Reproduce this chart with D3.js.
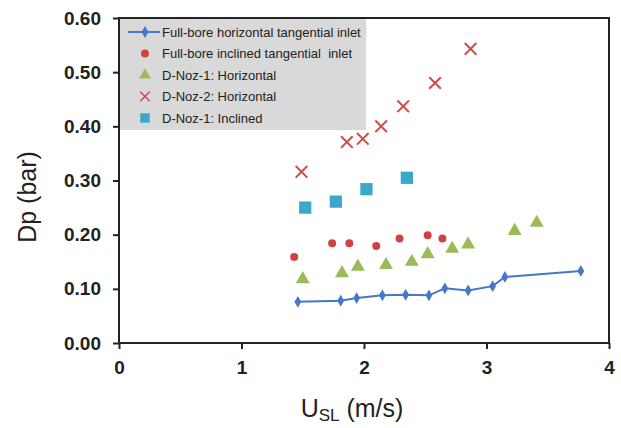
<!DOCTYPE html>
<html>
<head>
<meta charset="utf-8">
<script src="https://cdn.jsdelivr.net/npm/d3@7"></script>
<style>
    body { margin: 0; background: #fff; }
    svg text { font-family: "Liberation Sans", Arial, sans-serif; }
</style>
</head>
<body>
<svg id="chart" width="621" height="428"></svg>
<script>
// Full-bore horizontal tangential inlet (line + diamonds)
var fbHorX = [1.46, 1.81, 1.94, 2.15, 2.34, 2.53, 2.66, 2.85, 3.05, 3.15, 3.77]
var fbHorY = [0.076, 0.078, 0.083, 0.088, 0.089, 0.088, 0.101, 0.097, 0.105, 0.122, 0.133]

// Full-bore inclined tangential inlet (circles)
var fbIncX = [1.43, 1.74, 1.88, 2.10, 2.29, 2.52, 2.64]
var fbIncY = [0.159, 0.184, 0.184, 0.179, 0.193, 0.199, 0.193]

// D-Noz-1: Horizontal (triangles)
var noz1HorX = [1.50, 1.82, 1.95, 2.18, 2.39, 2.52, 2.72, 2.85, 3.23, 3.41]
var noz1HorY = [0.118, 0.129, 0.141, 0.144, 0.150, 0.164, 0.174, 0.182, 0.207, 0.222]

// D-Noz-2: Horizontal (crosses)
var noz2HorX = [1.49, 1.86, 1.99, 2.14, 2.32, 2.58, 2.87]
var noz2HorY = [0.316, 0.371, 0.377, 0.400, 0.437, 0.480, 0.543]

// D-Noz-1: Inclined (squares)
var noz1IncX = [1.52, 1.77, 2.02, 2.35]
var noz1IncY = [0.250, 0.261, 0.284, 0.305]

var xTicks = [0, 1, 2, 3, 4]
var yTicks = [0, 0.1, 0.2, 0.3, 0.4, 0.5, 0.6]

var legendNames = [
    "Full-bore horizontal tangential inlet",
    "Full-bore inclined tangential  inlet",
    "D-Noz-1: Horizontal",
    "D-Noz-2: Horizontal",
    "D-Noz-1: Inclined"
]

var colors = {
    blue: "#4677c8",
    red: "#d2413f",
    green: "#9bbb59",
    cross: "#d04b48",
    aqua: "#3aa8c8"
}

var svg = d3.select("#chart")
var margin = { top: 18, right: 12, bottom: 85, left: 119 }
var width = 621 - margin.left - margin.right
var height = 428 - margin.top - margin.bottom

var x = d3.scaleLinear().domain([0, 4]).range([0, width])
var y = d3.scaleLinear().domain([0, 0.6]).range([height, 0])

var g = svg.append("g").attr("transform", "translate(" + margin.left + "," + margin.top + ")")

function zip(xs, ys) {
    return xs.map(function (v, i) { return { x: v, y: ys[i] } })
}

// axes
var yAxis = g.append("g")
    .call(d3.axisLeft(y).tickValues(yTicks).tickFormat(d3.format(".2f")).tickSize(6).tickPadding(12))
var xAxis = g.append("g")
    .attr("transform", "translate(0," + height + ")")
    .call(d3.axisBottom(x).tickValues(xTicks).tickFormat(d3.format("d")).tickSize(6).tickPadding(12))

;[xAxis, yAxis].forEach(function (a) {
    a.select(".domain").remove()
    a.selectAll(".tick line").attr("stroke", "#222").attr("stroke-width", 2)
    a.selectAll(".tick text").attr("fill", "#222").style("font-size", "19px").style("font-weight", "bold")
})

// legend background
var legend = g.append("g")
legend.append("rect")
    .attr("x", 0).attr("y", 0)
    .attr("width", 247).attr("height", 112)
    .attr("fill", "#d9d9d9")

// plot frame
g.append("rect")
    .attr("x", 0).attr("y", 0)
    .attr("width", width).attr("height", height)
    .attr("fill", "none").attr("stroke", "#222").attr("stroke-width", 2)

// series drawing helpers
var diamond = d3.symbol().type(d3.symbolDiamond).size(40)
var circle = d3.symbol().type(d3.symbolCircle).size(50)
var triangle = d3.symbol().type(d3.symbolTriangle).size(85)
var square = d3.symbol().type(d3.symbolSquare).size(150)
var cross = d3.symbol().type(d3.symbolX).size(90)

var line = d3.line().x(function (d) { return x(d.x) }).y(function (d) { return y(d.y) })

g.append("path")
    .datum(zip(fbHorX, fbHorY))
    .attr("d", line)
    .attr("fill", "none")
    .attr("stroke", colors.blue)
    .attr("stroke-width", 2)

function drawPoints(data, sym, fill, stroke) {
    g.append("g").selectAll("path")
        .data(data)
        .enter().append("path")
        .attr("transform", function (d) { return "translate(" + x(d.x) + "," + y(d.y) + ")" })
        .attr("d", sym)
        .attr("fill", fill || "none")
        .attr("stroke", stroke || "none")
        .attr("stroke-width", stroke ? 2 : 0)
}

drawPoints(zip(fbHorX, fbHorY), diamond, colors.blue)
drawPoints(zip(fbIncX, fbIncY), circle, colors.red)
drawPoints(zip(noz1HorX, noz1HorY), triangle, colors.green)
drawPoints(zip(noz2HorX, noz2HorY), cross, null, colors.cross)
drawPoints(zip(noz1IncX, noz1IncY), square, colors.aqua)

// legend entries
var legendSyms = [diamond, circle, triangle, cross, square]
var legendFill = [colors.blue, colors.red, colors.green, null, colors.aqua]
var legendStroke = [null, null, null, colors.cross, null]

legendNames.forEach(function (name, i) {
    var ly = 14 + i * 21.5
    if (i === 0) {
        legend.append("line")
            .attr("x1", 9).attr("x2", 41)
            .attr("y1", ly).attr("y2", ly)
            .attr("stroke", colors.blue).attr("stroke-width", 2)
    }
    var s = legendSyms[i]
    if (i === 2) s = d3.symbol().type(d3.symbolTriangle).size(60)
    if (i === 4) s = d3.symbol().type(d3.symbolSquare).size(90)
    if (i === 3) s = d3.symbol().type(d3.symbolX).size(60)
    legend.append("path")
        .attr("transform", "translate(26," + ly + ")")
        .attr("d", s)
        .attr("fill", legendFill[i] || "none")
        .attr("stroke", legendStroke[i] || "none")
        .attr("stroke-width", legendStroke[i] ? 1.5 : 0)
    legend.append("text")
        .attr("x", 43).attr("y", ly)
        .attr("dy", "0.35em")
        .attr("fill", "#222")
        .style("font-size", "13px")
        .style("white-space", "pre")
        .text(name)
})

// axis titles
svg.append("text")
    .attr("transform", "translate(36,197) rotate(-90)")
    .attr("text-anchor", "middle")
    .attr("fill", "#222")
    .style("font-size", "25px")
    .text("Dp (bar)")

var xt = svg.append("text")
    .attr("x", 352).attr("y", 417)
    .attr("text-anchor", "middle")
    .attr("fill", "#222")
    .style("font-size", "25px")
xt.append("tspan").text("U")
xt.append("tspan").attr("dy", 4).style("font-size", "17px").text("SL")
xt.append("tspan").attr("dy", -4).text(" (m/s)")
</script>
</body>
</html>
